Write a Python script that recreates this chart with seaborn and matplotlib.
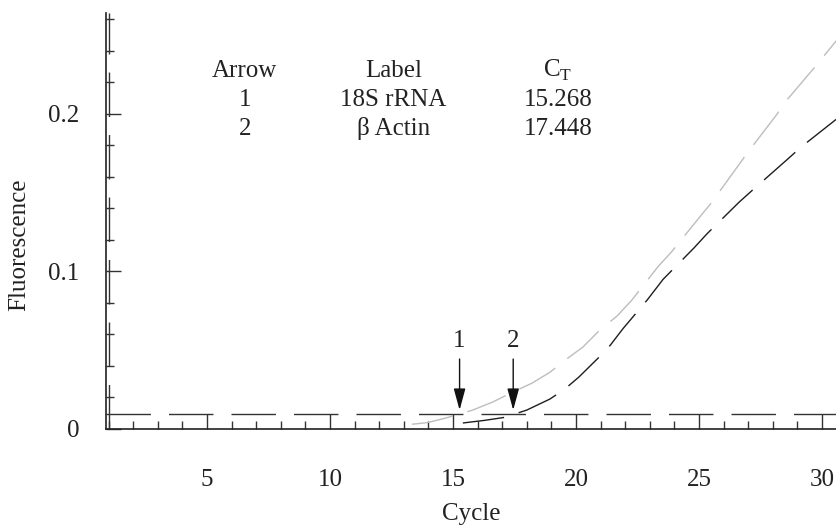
import matplotlib
matplotlib.use("Agg")
import matplotlib.pyplot as plt
from matplotlib.ticker import MultipleLocator
import numpy as np
import pandas as pd
import seaborn as sns

# ---- data ----
rrna_cycle = [13.33, 13.94, 14.6, 15.27, 15.8, 16.6, 17.44, 18.2, 18.94, 19.67, 20.28,
              20.98, 21.67, 22.28, 23.33, 23.86, 25.0, 25.5, 26.54, 27.0, 28.13, 28.58,
              29.72, 30.61]
rrna_fluor = [0.003, 0.004, 0.0065, 0.0095, 0.012, 0.017, 0.0235, 0.029, 0.036, 0.045, 0.052,
              0.063, 0.0717, 0.082, 0.103, 0.112, 0.134, 0.1435, 0.166, 0.176, 0.199, 0.209,
              0.230, 0.247]
actin_cycle = [15.4, 16.3, 17.2, 17.45, 18.0, 18.94, 19.55, 20.12, 20.9, 21.4, 21.9,
               22.9, 23.54, 24.8, 25.33, 26.63, 27.2, 28.58, 29.15, 30.61]
actin_fluor = [0.0038, 0.0055, 0.0076, 0.0092, 0.012, 0.019, 0.0254, 0.033, 0.045, 0.0533,
               0.0635, 0.082, 0.095, 0.115, 0.124, 0.144, 0.152, 0.171, 0.179, 0.197]
threshold = 0.0095
arrows = ["1", "2"]
labels = ["18S rRNA", "β Actin"]
ct_values = [15.268, 17.448]

df = pd.concat([
    pd.DataFrame({"Cycle": rrna_cycle, "Fluorescence": rrna_fluor, "Target": "18S rRNA"}),
    pd.DataFrame({"Cycle": actin_cycle, "Fluorescence": actin_fluor, "Target": "β Actin"}),
], ignore_index=True)

sns.set_theme(style="ticks")
plt.rcParams["font.family"] = ["Liberation Serif", "DejaVu Serif"]
plt.rcParams["mathtext.fontset"] = "custom"
plt.rcParams["mathtext.rm"] = "Liberation Serif"

FS = 18
TXT = "#222222"

fig = plt.figure(figsize=(8.37, 5.27), dpi=100)
ax = fig.add_axes([0.1266, 0.186, 0.8734, 0.789])

sns.lineplot(data=df, x="Cycle", y="Fluorescence", hue="Target", style="Target",
             palette={"18S rRNA": "#bdbdbd", "β Actin": "#1e1e1e"},
             dashes={"18S rRNA": (30, 11), "β Actin": (30, 11)},
             linewidth=1.0, legend=False, ax=ax, sort=True)

# threshold and vertical baseline marker
ax.axhline(threshold, color="#333333", lw=1.0, dashes=(32, 13))
ax.axvline(1.0, color="#333333", lw=1.0, dashes=(32, 13))

ax.set_xlim(0.894, 30.61)
ax.set_ylim(0, 0.264)

ax.xaxis.set_minor_locator(MultipleLocator(1))
ax.yaxis.set_minor_locator(MultipleLocator(0.02))
ax.set_xticks([5, 10, 15, 20, 25, 30])
ax.set_xticklabels(["5", "10", "15", "20", "25", "30"])
ax.set_yticks([0, 0.1, 0.2])
ax.set_yticklabels(["0", "0.1", "0.2"])

ax.tick_params(axis="both", which="major", direction="in", length=10.8, width=1.0,
               color="#333333", labelsize=FS, labelcolor=TXT)
ax.tick_params(axis="both", which="minor", direction="in", length=5.8, width=1.0,
               color="#333333")
ax.tick_params(axis="x", which="major", pad=29)
ax.tick_params(axis="y", which="major", pad=19)

for s in ["top", "right"]:
    ax.spines[s].set_visible(False)
for s in ["left", "bottom"]:
    ax.spines[s].set_color("#222222")
    ax.spines[s].set_linewidth(1.2)

ax.set_xlabel("Cycle", fontsize=FS, color=TXT)
ax.set_ylabel("Fluorescence", fontsize=FS, color=TXT)
ax.xaxis.set_label_coords(0.5, -0.178)
ax.yaxis.set_label_coords(-0.104, 0.442)

# arrows marking CT
for a, ct in zip(arrows, ct_values):
    ax.annotate("", xy=(ct, 0.012), xytext=(ct, 0.0444),
                arrowprops=dict(arrowstyle="-|>,head_length=1.1,head_width=0.3",
                                color="#111111", lw=1.0, shrinkA=0, shrinkB=0))
    ax.text(ct, 0.056, a, ha="center", va="center", fontsize=FS, color=TXT)

# table
col_x = [0.190, 0.393, 0.618]
row_y = [0.862, 0.792, 0.722]
header = ["Arrow", "Label", r"C$_\mathregular{T}$"]
for x, h in zip(col_x, header):
    ax.text(x, row_y[0], h, transform=ax.transAxes, ha="center", va="center",
            fontsize=FS, color=TXT)
for i, (a, lab, ct) in enumerate(zip(arrows, labels, ct_values)):
    y = row_y[i + 1]
    ax.text(col_x[0], y, a, transform=ax.transAxes, ha="center", va="center",
            fontsize=FS, color=TXT)
    ax.text(col_x[1], y, lab, transform=ax.transAxes, ha="center", va="center",
            fontsize=FS, color=TXT)
    ax.text(col_x[2], y, f"{ct:.3f}", transform=ax.transAxes, ha="center", va="center",
            fontsize=FS, color=TXT)

fig.savefig("out.png", dpi=100)
